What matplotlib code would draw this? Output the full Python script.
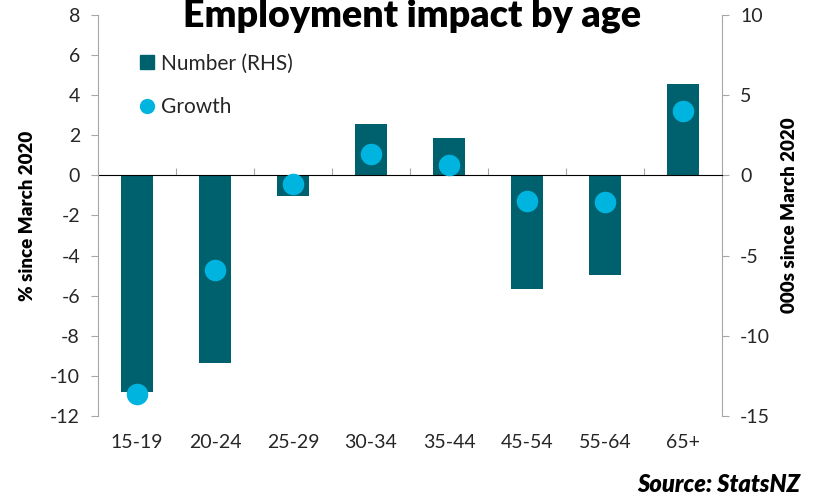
import matplotlib
matplotlib.use('Agg')
import matplotlib.pyplot as plt
from matplotlib.lines import Line2D
import numpy

# Data
ages = ['15-19', '20-24', '25-29', '30-34', '35-44', '45-54', '55-64', '65+']
number_000s = [-13.5, -11.7, -1.3, 3.2, 2.3, -7.1, -6.2, 5.7]   # RHS, bars
growth_pct = [-10.9, -4.7, -0.45, 1.05, 0.5, -1.3, -1.35, 3.2]  # LHS, dots

bar_color = '#00616E'
dot_color = '#00B4E0'
axis_gray = '#A6A6A6'
text_color = '#262626'

plt.rcParams['font.family'] = ['Lato', 'DejaVu Sans']
plt.rcParams['axes.unicode_minus'] = False

fig = plt.figure(figsize=(8.15, 4.97), dpi=100, facecolor='w')
ax = fig.add_axes([0.1202, 0.163, 0.7656, 0.807])
ax2 = ax.twinx()

x = numpy.arange(len(ages))

############### bars on the right axis ###############
ax2.bar(x, number_000s, width=0.4, color=bar_color, zorder=2)
ax2.set_ylim(-15, 10)
ax2.set_yticks([-15, -10, -5, 0, 5, 10])
ax2.set_ylabel('000s since March 2020', fontsize=13.5, fontweight='heavy', labelpad=8)

############### dots on the left axis ###############
ax.plot(x, growth_pct, linestyle='none', marker='o', markersize=15.5,
        color=dot_color, markeredgewidth=0, zorder=3)
ax.set_ylim(-12, 8)
ax.set_yticks(numpy.arange(-12, 9, 2))
ax.set_xlim(-0.5, len(ages) - 0.5)
ax.set_ylabel('% since March 2020', fontsize=13.5, fontweight='heavy', labelpad=10)
ax.set_zorder(ax2.get_zorder() + 1)
ax.patch.set_visible(False)

# category labels below the plot, axis line at zero
ax.set_xticks(x)
ax.set_xticklabels(ages)
ax.tick_params(axis='x', length=0, pad=13, labelsize=14, colors=text_color)
zero_axis = ax.secondary_xaxis(0.6)
zero_axis.set_xticks(x[:-1] + 0.5)
zero_axis.tick_params(axis='x', direction='out', length=5, color=axis_gray, labelbottom=False, labeltop=False)
zero_axis.spines['bottom'].set_color(axis_gray)

for a in (ax, ax2):
    for side in ('top', 'bottom'):
        a.spines[side].set_visible(False)
    a.spines['left'].set_color(axis_gray)
    a.spines['right'].set_color(axis_gray)
    a.tick_params(axis='y', direction='out', length=5, color=axis_gray,
                  labelsize=14, labelcolor=text_color, pad=8)
ax.spines['right'].set_visible(False)
ax2.spines['left'].set_visible(False)

############### legend, title, source ###############
handles = [Line2D([], [], linestyle='none', marker='s', markersize=10, color=bar_color),
           Line2D([], [], linestyle='none', marker='o', markersize=11, color=dot_color, markeredgewidth=0)]
fig.legend(handles, ['Number (RHS)', 'Growth'], loc='upper left', bbox_to_anchor=(0.145, 0.93),
           frameon=False, fontsize=15, labelspacing=1.15, handletextpad=0.15, handlelength=1.0,
           labelcolor=text_color)

fig.text(0.505, 0.968, 'Employment impact by age', ha='center', va='center',
         fontsize=27, fontweight='heavy', color='black')
fig.text(0.982, 0.025, 'Source: StatsNZ', ha='right', va='center',
         fontsize=17, fontweight='heavy', fontstyle='italic', color='black')

plt.savefig('out.png', dpi=100)
plt.close()
